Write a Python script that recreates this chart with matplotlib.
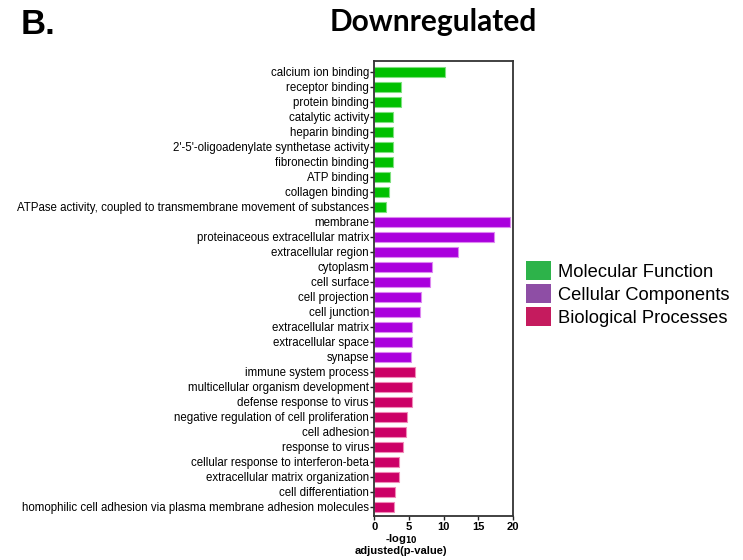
import matplotlib
matplotlib.use("Agg")
import matplotlib.pyplot as plt
from matplotlib.patches import Patch

categories = [
    "calcium ion binding", "receptor binding", "protein binding", "catalytic activity",
    "heparin binding", "2'-5'-oligoadenylate synthetase activity", "fibronectin binding",
    "ATP binding", "collagen binding",
    "ATPase activity, coupled to transmembrane movement of substances",
    "membrane", "proteinaceous extracellular matrix", "extracellular region", "cytoplasm",
    "cell surface", "cell projection", "cell junction", "extracellular matrix",
    "extracellular space", "synapse",
    "immune system process", "multicellular organism development", "defense response to virus",
    "negative regulation of cell proliferation", "cell adhesion", "response to virus",
    "cellular response to interferon-beta", "extracellular matrix organization",
    "cell differentiation",
    "homophilic cell adhesion via plasma membrane adhesion molecules",
]
values = [
    10.2, 3.8, 3.8, 2.7, 2.7, 2.7, 2.6, 2.2, 2.1, 1.7,
    19.6, 17.3, 12.0, 8.25, 8.05, 6.7, 6.55, 5.45, 5.35, 5.2,
    5.85, 5.4, 5.4, 4.65, 4.6, 4.15, 3.6, 3.6, 2.9, 2.75,
]
groups = ["MF"] * 10 + ["CC"] * 10 + ["BP"] * 10
group_names = ["Molecular Function", "Cellular Components", "Biological Processes"]
bar_colors = {"MF": "#00C000", "CC": "#AA00DD", "BP": "#CC0066"}
edge_colors = {"MF": "#7FE07F", "CC": "#DD88F0", "BP": "#F08AB8"}
legend_colors = ["#2DB34A", "#8E4EA5", "#C51B5E"]
xticks = [0, 5, 10, 15, 20]

plt.rcParams["font.family"] = ["Liberation Sans", "DejaVu Sans"]

fig = plt.figure(figsize=(7.43, 5.6), dpi=100)
ax = fig.add_axes([374.5 / 743, 1 - 515.7 / 560, (513 - 374.5) / 743, (515.7 - 61) / 560])

ypos = list(range(len(categories)))
ax.barh(ypos, values, height=0.67,
        color=[bar_colors[g] for g in groups],
        edgecolor=[edge_colors[g] for g in groups], linewidth=0.8)
ax.set_yticks(ypos)
ax.set_yticklabels(categories, fontsize=8.3)
ax.set_ylim(29.58, -0.73)
ax.set_xlim(0, 20)
ax.set_xticks(xticks)
ax.set_xticklabels([str(t) for t in xticks], fontsize=8, fontweight="bold")
ax.tick_params(axis="y", length=3, width=1, pad=1, color="#222222")
ax.tick_params(axis="x", length=3, width=1, pad=1.5, color="#222222")
for s in ax.spines.values():
    s.set_linewidth(1.3)
    s.set_color("#333333")

fig.text(401 / 743, 1 - 539.5 / 560, "-log$_{\\mathbf{10}}$", ha="center", va="center",
         fontsize=8, fontweight="bold")
fig.text(401 / 743, 1 - 551 / 560, "adjusted(p-value)", ha="center", va="center",
         fontsize=8, fontweight="bold")

fig.text(433 / 743, 1 - 22 / 560, "Downregulated", ha="center", va="center",
         fontsize=21.5, fontweight="bold", family=["Lato", "DejaVu Sans"])
fig.text(21 / 743, 1 - 25 / 560, "B.", ha="left", va="center",
         fontsize=25, fontweight="bold", family=["Liberation Sans", "DejaVu Sans"])

handles = [Patch(facecolor=c, edgecolor="none") for c in legend_colors]
fig.legend(handles, group_names, loc="upper left",
           bbox_to_anchor=(519 / 743, 1 - 254 / 560), frameon=False,
           fontsize=13.2, handlelength=1.35, handleheight=1.2, handletextpad=0.35,
           labelspacing=0.18, borderaxespad=0)

fig.savefig("out.png", dpi=100)
